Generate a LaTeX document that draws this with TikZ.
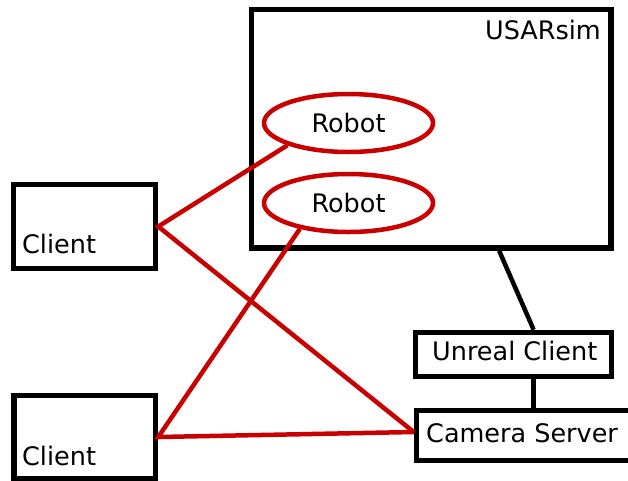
\documentclass[tikz,border=0pt]{standalone}
\usepackage{fontspec}
\setmainfont{DejaVu Sans}
\usetikzlibrary{shapes.geometric,calc}
\definecolor{lred}{RGB}{200,0,0}
\begin{document}
\begin{tikzpicture}[x=1pt,y=-1pt,
 box/.style={draw=black,line width=5.5pt,rectangle,inner sep=0pt},
 robotnode/.style={draw=lred,line width=4.5pt,ellipse,inner sep=0pt,minimum width=169pt,minimum height=58pt,font=\fontsize{25.5}{30}\selectfont},
 lbl/.style={inner sep=0pt,font=\fontsize{25.5}{30}\selectfont},
 redline/.style={draw=lred,line width=4.5pt},
 blkline/.style={draw=black,line width=4.5pt}]
\useasboundingbox (0,0) rectangle (628,480);
\clip (0,0) rectangle (628,480);
\fill[white] (0,0) rectangle (628,480);
% boxes
\node[box,minimum width=359.5pt,minimum height=238.5pt] (usar) at (431.25,128.75) {};
\node[box,minimum width=142pt,minimum height=84pt] (c1) at (84.5,226.5) {};
\node[box,minimum width=141.5pt,minimum height=83pt] (c2) at (84.75,437) {};
\node[box,minimum width=196pt,minimum height=44pt] (unreal) at (513.5,354.5) {};
\node[box,minimum width=223.5pt,minimum height=50pt] (cam) at (528.25,435.5) {};
% robots
\node[robotnode] (r1) at (348.5,123) {Robot};
\node[robotnode] (r2) at (348.5,203) {Robot};
% labels
\node[lbl,anchor=base east] (usarlbl) at (601,39) {USARsim};
\node[lbl,anchor=base west] (c1lbl) at (22,253) {Client};
\node[lbl,anchor=base west] (c2lbl) at (22,465) {Client};
\node[lbl,anchor=base west] (unreallbl) at (432,360) {Unreal Client};
\node[lbl,anchor=base west] (camlbl) at (426,442) {Camera Server};
% black connectors
\coordinate (ut) at ($(unreal.north west)!0.6!(unreal.north east)$);
\coordinate (ub) at ($(unreal.south west)!0.6!(unreal.south east)$);
\draw[blkline] ($(usar.south west)!0.686!(usar.south east)$) -- (ut);
\draw[blkline] (ub) -- (ub |- cam.north);
% red connectors
\coordinate (camin) at ($(cam.west)+(0,-3.5)$);
\draw[redline] (r1.200) -- (c1.east) -- (camin);
\draw[redline] (r2.208) -- (c2.east) -- (camin);
\end{tikzpicture}
\end{document}
